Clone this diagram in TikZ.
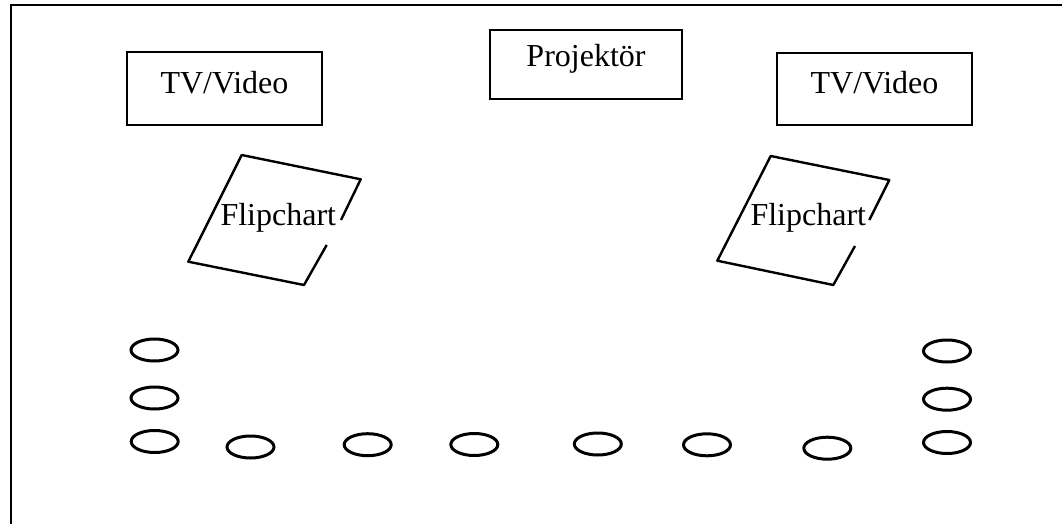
\documentclass[tikz,border=0pt]{standalone}
\usepackage{fontspec}
\setmainfont{Liberation Serif}
\usetikzlibrary{shapes.geometric}
\begin{document}
\begin{tikzpicture}[x=1pt,y=-1pt,
  device/.style={draw, line width=2pt, inner sep=0pt},
  lbl/.style={inner sep=0pt, anchor=base, font=\fontsize{32}{38}\selectfont},
  board/.style={line width=2.4pt, line join=round},
  seat/.style={draw, ellipse, line width=3pt, inner sep=0pt,
               minimum width=47pt, minimum height=22pt}]
\useasboundingbox (0,0) rectangle (1062,524);
% room walls
\draw[line width=2.4pt] (11,530) -- (11,5) -- (1070,5);

% screens and projector
\node[device, minimum width=195pt, minimum height=73pt] (tvL) at (224.5,88.5) {};
\node[lbl] (tvLt) at (224.5,94) {TV/Video};
\node[device, minimum width=192pt, minimum height=69pt] (proj) at (586,64.5) {};
\node[lbl] (projt) at (586,67) {Projektör};
\node[device, minimum width=195pt, minimum height=72pt] (tvR) at (874.5,89) {};
\node[lbl] (tvRt) at (874.5,94) {TV/Video};

% flipcharts (right edge interrupted by the label)
\draw[board] (341,220) -- (360.7,179.3) -- (241.7,155) -- (188.3,261.7)
  -- (304,285) -- (326.7,245);
\node[lbl] (fcL) at (278.3,225) {Flipchart};
\draw[board] (869.3,220) -- (889.3,180) -- (770.7,156) -- (717.3,260.7)
  -- (833.3,285) -- (855,246);
\node[lbl] (fcR) at (808.3,225) {Flipchart};

% seating
\node[seat] (l1) at (154.5,350) {};
\node[seat] (l2) at (154.5,398) {};
\node[seat] (l3) at (154.7,441.5) {};
\node[seat] (b1) at (250.5,447) {};
\node[seat] (b2) at (367.7,444.7) {};
\node[seat] (b3) at (474.3,444.5) {};
\node[seat] (b4) at (597.8,444) {};
\node[seat] (b5) at (707,444.8) {};
\node[seat] (b6) at (827.3,448.2) {};
\node[seat] (r1) at (947,351) {};
\node[seat] (r2) at (947,399.2) {};
\node[seat] (r3) at (947,442.5) {};
\end{tikzpicture}
\end{document}
